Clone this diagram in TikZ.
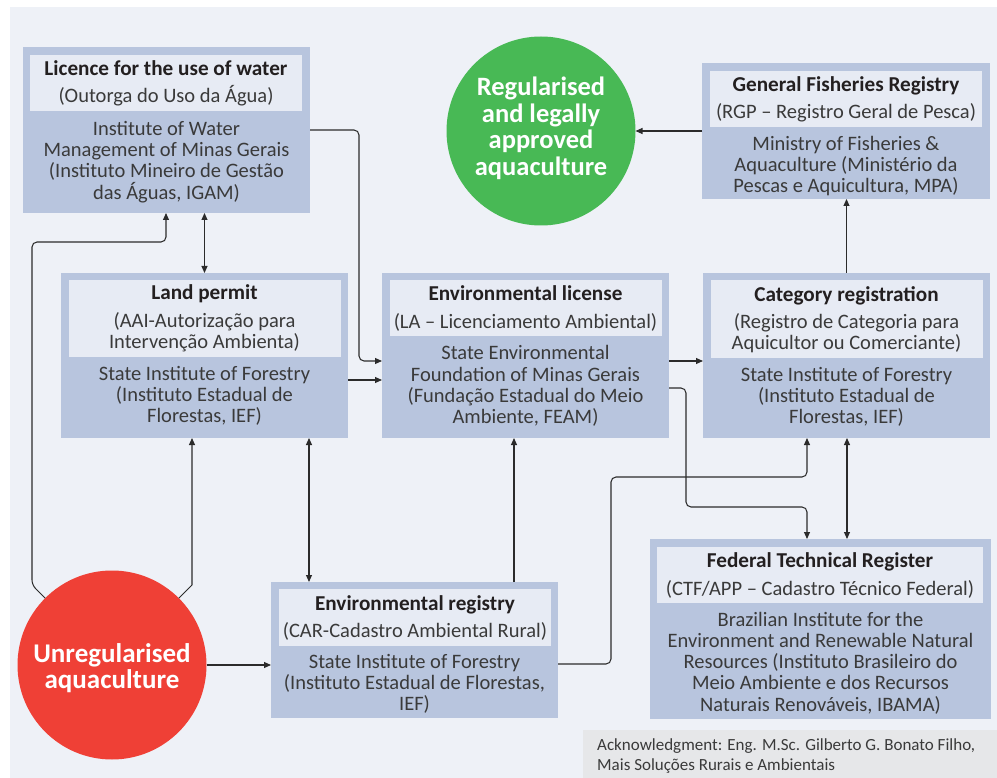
\documentclass[tikz,border=0pt]{standalone}
\usepackage{fontspec}
\setmainfont{Carlito}
\usetikzlibrary{arrows.meta}
\definecolor{panel}{HTML}{EEF1F7}
\definecolor{boxc}{HTML}{B8C5DE}
\definecolor{headc}{HTML}{E7EBF4}
\definecolor{greenc}{HTML}{48B955}
\definecolor{redc}{HTML}{EF4036}
\definecolor{ackc}{HTML}{E6E7E9}
\definecolor{titlec}{HTML}{231F20}
\definecolor{bodyc}{HTML}{3A3A3A}
\definecolor{linec}{HTML}{2B2B2B}
\newcommand{\ttlfont}{\bfseries\fontsize{21.2}{21.3}\selectfont\color{titlec}}
\begin{document}
\begin{tikzpicture}[x=1pt,y=-1pt,
  boxbg/.style={fill=boxc, draw=none, inner sep=0, outer sep=0},
  headbg/.style={fill=headc, draw=none, inner sep=0, outer sep=0},
  txt/.style={align=center, inner sep=0, font=\fontsize{20.5}{21.3}\selectfont, text=bodyc},
  circ/.style={circle, inner sep=0, outer sep=0, minimum size=189, draw=none},
  ctxt/.style={align=center, inner sep=0, text=white},
  conn/.style={draw=linec, line width=1.05pt},
  arr/.style={conn, -{Triangle[length=7pt,width=6pt]}},
  darr/.style={conn, {Triangle[length=7pt,width=6pt]}-{Triangle[length=7pt,width=6pt]}},
  rc/.style={rounded corners=5pt}
]
\useasboundingbox (0,0) rectangle (997,778);
\fill[white] (0,0) rectangle (997,778);
\fill[panel] (10,7) rectangle (997,778);

% ---- Licence for the use of water
\node[boxbg, minimum width=287, minimum height=166] (W) at (166.5,130) {};
\node[headbg, minimum width=272, minimum height=56] (Wh) at (166,83) {};
\node[txt] (Wt) at (166,83.5) {{\ttlfont Licence for the use of water}\\[6pt](Outorga do Uso da Água)};
\node[txt] (Wb) at (166.5,162) {Institute of Water\\Management of Minas Gerais\\(Instituto Mineiro de Gestão\\das Águas, IGAM)};

% ---- Land permit
\node[boxbg, minimum width=287, minimum height=165] (LP) at (204.5,355.5) {};
\node[headbg, minimum width=272, minimum height=77] (LPh) at (204.5,318.5) {};
\node[txt] (LPt) at (204.5,318.5) {{\ttlfont Land permit}\\[6pt](AAI-Autorização para\\Intervenção Ambienta)};
\node[txt] (LPb) at (204.5,396) {State Institute of Forestry\\(Instituto Estadual de\\Florestas, IEF)};

% ---- Environmental license
\node[boxbg, minimum width=287, minimum height=165] (EL) at (525.5,355.5) {};
\node[headbg, minimum width=272, minimum height=56] (ELh) at (525.5,308) {};
\node[txt] (ELt) at (525.5,308.5) {{\ttlfont Environmental license}\\[6pt](LA – Licenciamento Ambiental)};
\node[txt] (ELb) at (525.5,386) {State Environmental\\Foundation of Minas Gerais\\(Fundação Estadual do Meio\\Ambiente, FEAM)};

% ---- Category registration
\node[boxbg, minimum width=287, minimum height=165] (CR) at (846.5,355.5) {};
\node[headbg, minimum width=272, minimum height=78] (CRh) at (846.5,319) {};
\node[txt] (CRt) at (846.5,319.5) {{\ttlfont Category registration}\\[6pt](Registro de Categoria para\\Aquicultor ou Comerciante)};
\node[txt] (CRb) at (846.5,397) {State Institute of Forestry\\(Instituto Estadual de\\Florestas, IEF)};

% ---- General Fisheries Registry
\node[boxbg, minimum width=288, minimum height=136] (GF) at (846,131) {};
\node[headbg, minimum width=272, minimum height=56] (GFh) at (846,99) {};
\node[txt] (GFt) at (846,99.5) {{\ttlfont General Fisheries Registry}\\[6pt](RGP – Registro Geral de Pesca)};
\node[txt] (GFb) at (846,166) {Ministry of Fisheries \&\\Aquaculture (Ministério da\\Pescas e Aquicultura, MPA)};

% ---- Federal Technical Register
\node[boxbg, minimum width=341, minimum height=180] (FT) at (820.5,629) {};
\node[headbg, minimum width=326, minimum height=56] (FTh) at (820,575) {};
\node[txt] (FTt) at (820,575.5) {{\ttlfont Federal Technical Register}\\[6pt](CTF/APP – Cadastro Técnico Federal)};
\node[txt] (FTb) at (820.5,663) {Brazilian Institute for the\\Environment and Renewable Natural\\Resources (Instituto Brasileiro do\\Meio Ambiente e dos Recursos\\Naturais Renováveis, IBAMA)};

% ---- Environmental registry
\node[boxbg, minimum width=287, minimum height=136] (ER) at (414.5,650) {};
\node[headbg, minimum width=272, minimum height=57] (ERh) at (415,617.5) {};
\node[txt] (ERt) at (415,618) {{\ttlfont Environmental registry}\\[6pt](CAR-Cadastro Ambiental Rural)};
\node[txt] (ERb) at (414.5,684) {State Institute of Forestry\\(Instituto Estadual de Florestas,\\IEF)};

% ---- circles
\node[circ, fill=greenc] (G) at (541,131) {};
\node[ctxt, font=\bfseries\fontsize{26.5}{26.5}\selectfont] (Gt) at (541,128.5) {Regularised\\and legally\\approved\\aquaculture};
\node[circ, fill=redc] (R) at (112,665) {};
\node[ctxt, font=\bfseries\fontsize{27}{26}\selectfont] (Rt) at (112,668.5) {Unregularised\\aquaculture};

% ---- acknowledgment
\node[fill=ackc, inner sep=0, minimum width=414, minimum height=48] (A) at (790,754) {};
\node[anchor=west, align=left, inner sep=0, font=\fontsize{17}{20}\selectfont, text=bodyc] (At) at (597,756) {Acknowledgment: Eng. M.Sc. Gilberto G. Bonato Filho,\\Mais Soluções Rurais e Ambientais};

% ---- connectors
\draw[arr, rc] (W.east) -| (359,361) -- (EL.west |- 0,361);
\draw[arr] (LP.east |- 0,380) -- (EL.west |- 0,380);
\draw[arr] (EL.east |- 0,361) -- (CR.west |- 0,361);
\draw[arr, rc] (EL.east |- 0,388) -| (686,507) -| (FT.north -| 807,0);
\draw[darr] (CR.south -| 847,0) -- (FT.north -| 847,0);
\draw[arr, rc] (ER.east |- 0,664) -| (611,477) -| (CR.south -| 807,0);
\draw[arr] (CR.north) -- (CR.north |- GF.south);
\draw[arr] (GF.west) -- (G.east);
\draw[darr] (LP.north |- W.south) -- (LP.north);
\draw[arr, rc] (R.135) -- (32,585) -- (32,242) -- (166,242) -- (W.south -| 166,0);
\draw[arr] (R.45) -- (192,585) -- (LP.south -| 192,0);
\draw[darr] (LP.south -| 309,0) -- (ER.north -| 309,0);
\draw[arr] (ER.north -| 514,0) -- (EL.south -| 514,0);
\draw[arr] (R.east) -- (R.east -| ER.west);
\end{tikzpicture}
\end{document}
